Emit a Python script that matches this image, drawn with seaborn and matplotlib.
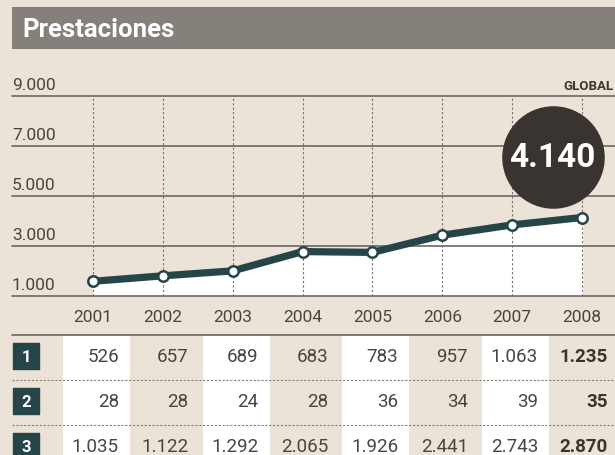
import pandas as pd
import matplotlib.pyplot as plt
import seaborn as sns

# datos
years = [2001, 2002, 2003, 2004, 2005, 2006, 2007, 2008]
row1 = [526, 657, 689, 683, 783, 957, 1063, 1235]
row2 = [28, 28, 24, 28, 36, 34, 39, 35]
row3 = [1035, 1122, 1292, 2065, 1926, 2441, 2743, 2870]
row_labels = ['1', '2', '3']
y_ticks = [1000, 3000, 5000, 7000, 9000]
title = 'Prestaciones'

global_vals = [a + b + c for a, b, c in zip(row1, row2, row3)]
df = pd.DataFrame({'year': years, 'global': global_vals})


def fmt(v):
    return f'{v:,}'.replace(',', '.')


paper = '#ebe2d8'
ink = '#4a4440'
teal = '#264549'
grid = '#6e6660'

sns.set_theme(style='white', rc={'figure.facecolor': paper, 'axes.facecolor': paper})
plt.rcParams['font.family'] = ['Roboto', 'DejaVu Sans']

W, H = 615, 456
fig = plt.figure(figsize=(W / 100, H / 100), dpi=100)


def px_axes(x0, y0, x1, y1):
    return fig.add_axes([x0 / W, 1 - y1 / H, (x1 - x0) / W, (y1 - y0) / H])


x0_year, step = 93, 69.86
xlim = (years[0] + (12 - x0_year) / step, years[0] + (W - x0_year) / step)

# title bar
tb = px_axes(12, 8, W, 50)
tb.set_facecolor('#86807a')
tb.set_xticks([])
tb.set_yticks([])
for s in tb.spines.values():
    s.set_visible(False)
tb.text(0.017, 0.47, title, transform=tb.transAxes, color='white',
        fontsize=18.5, fontweight='bold', va='center', ha='left')

# chart
ax = px_axes(12, 97, W, 297)
ax.set_xlim(*xlim)
ax.set_ylim(y_ticks[0], y_ticks[-1])
for s in ax.spines.values():
    s.set_visible(False)
ax.set_xticks([])
ax.set_yticks([])

ax.fill_between(df['year'], df['global'], y_ticks[0], color='white', zorder=1)
for y in y_ticks:
    ax.axhline(y, color=grid, lw=1.2, zorder=2, clip_on=False)
    ax.annotate(fmt(y), (xlim[0], y), xytext=(0, 5), textcoords='offset points',
                ha='left', va='baseline', fontsize=12.5, color=ink, annotation_clip=False)
for yr in years:
    ax.plot([yr, yr], [y_ticks[0], y_ticks[-1]], color='#7a706a', lw=0.8,
            ls=(0, (2, 2)), zorder=2)

sns.lineplot(data=df, x='year', y='global', ax=ax, color=teal, lw=5.2, zorder=4,
             marker='o', markersize=7.5, markerfacecolor='white',
             markeredgecolor=teal, markeredgewidth=1.8)
ax.set_xlabel('')
ax.set_ylabel('')

ax.annotate('GLOBAL', (xlim[1], y_ticks[-1]), xytext=(-1, 5), textcoords='offset points',
            ha='right', va='baseline', fontsize=9.5, fontweight='bold', color='#3d3834',
            annotation_clip=False)

# circle with last value
cx, cy = years[-1] - 0.42, 6550
ax.scatter([cx], [cy], s=5300, color='#3a3430', zorder=6, clip_on=False)
ax.text(cx, cy, fmt(global_vals[-1]), ha='center', va='center', color='white',
        fontsize=24, fontweight='bold', zorder=7)

# table
tab = px_axes(12, 336, W, H)
tab.set_xlim(*xlim)
tab.set_ylim(2.19, -0.478)
tab.set_xticks([])
tab.set_yticks([])
for s in tab.spines.values():
    s.set_visible(False)

for i, yr in enumerate(years):
    if i % 2 == 0:
        tab.axvspan(yr - 0.43, yr + 0.53, ymin=0, ymax=0.99, color='white', zorder=0, lw=0)
    tab.text(yr, -0.88, str(yr), ha='center', va='center', fontsize=12.5,
             color=ink, clip_on=False)

tab.axhline(-0.478, color=grid, lw=1.2, clip_on=False, zorder=3)
for r in [0.52, 1.52]:
    tab.axhline(r, color='#8a807a', lw=0.8, ls=(0, (2, 1.5)), zorder=3)

rows = [row1, row2, row3]
for r, (lab, vals) in enumerate(zip(row_labels, rows)):
    badge_x = years[0] + (26 - x0_year) / step
    tab.scatter([badge_x], [r], marker='s', s=340, color=teal, zorder=4, clip_on=False)
    tab.text(badge_x, r, lab, ha='center', va='center', color='white',
             fontsize=12, fontweight='bold', zorder=5)
    for i, (yr, v) in enumerate(zip(years, vals)):
        last = i == len(years) - 1
        tab.text(yr + 0.37, r, fmt(v), ha='right', va='center', fontsize=13.5,
                 color='#3a3430' if last else ink,
                 fontweight='bold' if last else 'normal', zorder=5)

fig.savefig('out.png', dpi=100, facecolor=paper)
